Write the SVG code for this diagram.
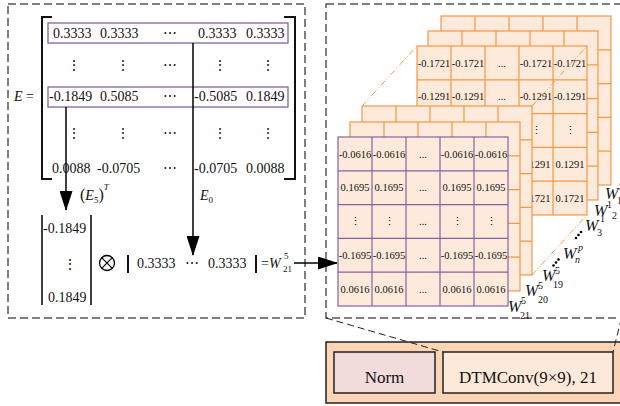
<svg xmlns="http://www.w3.org/2000/svg" width="620" height="406" viewBox="0 0 620 406">
<defs>
<style>
text{font-family:"Liberation Serif","Times New Roman",serif;fill:#111}
.m{font-size:14px}
.mc{font-size:14px;text-anchor:middle}
.c{font-size:10.5px;text-anchor:middle}
.it{font-style:italic}
.panel{fill:none;stroke:#555;stroke-width:1.5;stroke-dasharray:8 4}
.thin{fill:none;stroke:#222;stroke-width:1;stroke-dasharray:7 4}
.br{fill:none;stroke:#111;stroke-width:2}
.rowbox{fill:none;stroke:#8064a2;stroke-width:1.3}
.arr{stroke:#000;stroke-width:1.5;fill:none}
.diag{stroke:#f79646;stroke-width:1;stroke-dasharray:6 2 1 2 1 2;fill:none}
.lay{fill:#fdeada;stroke:#f79646;stroke-width:1.2}
.front{fill:#fdeada;stroke:#8064a2;stroke-width:1.2}
.W{font-size:16px;font-style:italic}
.s{font-size:10px}
.box{stroke:#222;stroke-width:1.5}
</style>
<marker id="ah" markerWidth="20" markerHeight="13" refX="19" refY="6.5" orient="auto" markerUnits="userSpaceOnUse"><path d="M0,0L20,6.5L0,13z" fill="#000"/></marker>
<g id="grid"><rect x="0" y="0" width="170" height="169"/><path fill="none" d="M34,0V169M68,0V169M102,0V169M136,0V169M0,33.8H170M0,67.6H170M0,101.4H170M0,135.2H170"/></g>
</defs>

<g id="left-panel"><rect class="panel" x="8" y="4" width="297" height="314"/></g>
<g id="right-panel"><rect class="panel" x="326" y="4" width="300" height="314"/></g>

<g id="matrix-E">
<text class="m it" x="14" y="101">E</text><text class="m" x="26" y="101">=</text>
<path class="br" d="M52,17H42V179H52M284,17H295V179H284"/>
<rect class="rowbox" x="48" y="23" width="240" height="20"/>
<rect class="rowbox" x="48" y="87" width="240" height="20"/>
<text class="m" y="38"><tspan x="53">0.3333</tspan><tspan x="100">0.3333</tspan><tspan x="198">0.3333</tspan><tspan x="246">0.3333</tspan></text>
<text class="mc" x="170" y="38">⋯</text>
<text class="mc" y="70"><tspan x="74">⋮</tspan><tspan x="123">⋮</tspan><tspan x="220">⋮</tspan><tspan x="268">⋮</tspan></text>
<text class="mc" x="170" y="70">⋯</text>
<text class="m" y="101"><tspan x="49">-0.1849</tspan><tspan x="100">0.5085</tspan><tspan x="194">-0.5085</tspan><tspan x="246">0.1849</tspan></text>
<text class="mc" x="170" y="101">⋯</text>
<text class="mc" y="138"><tspan x="74">⋮</tspan><tspan x="123">⋮</tspan><tspan x="220">⋮</tspan><tspan x="268">⋮</tspan></text>
<text class="mc" x="170" y="138">⋯</text>
<text class="m" y="173"><tspan x="52">0.0088</tspan><tspan x="97">-0.0705</tspan><tspan x="194">-0.0705</tspan><tspan x="246">0.0088</tspan></text>
<text class="mc" x="170" y="173">⋯</text>
</g>

<g id="label-E5T"><text class="m" x="80" y="200"><tspan font-size="16">(</tspan><tspan class="it">E</tspan><tspan font-size="9" dy="3">5</tspan><tspan font-size="16" dy="-3">)</tspan><tspan class="it" font-size="9" dy="-10">T</tspan></text></g>
<g id="label-E0"><text class="m it" x="200" y="200">E<tspan font-size="9" dy="3" font-style="normal">0</tspan></text></g>

<g id="formula">
<path class="arr" d="M42,215V305M91,215V305"/>
<text class="m" x="43" y="233">-0.1849</text>
<text class="mc" x="70" y="269">⋮</text>
<text class="m" x="48" y="302">0.1849</text>
<circle cx="107" cy="263" r="7.5" fill="none" stroke="#000" stroke-width="1.3"/>
<path d="M101.7,257.7L112.3,268.3M112.3,257.7L101.7,268.3" stroke="#000" stroke-width="1.2"/>
<path class="br" d="M128,255V273M256,255V273"/>
<text class="m" x="137" y="268">0.3333</text>
<text class="mc" x="192" y="268">⋯</text>
<text class="m" x="208" y="268">0.3333</text>
<text class="m" x="261" y="268">=</text>
<text class="m it" x="269" y="268">W</text>
<text font-size="9" x="284" y="259">5</text>
<text font-size="9" x="283" y="272">21</text>
</g>

<g id="connectors">
<line class="arr" x1="66" y1="107" x2="66" y2="210" marker-end="url(#ah)"/>
<line class="arr" x1="193" y1="43" x2="193" y2="255" marker-end="url(#ah)"/>
<line class="arr" x1="294" y1="263" x2="337" y2="263" marker-end="url(#ah)"/>
</g>

<g id="layer-back-3"><use href="#grid" class="lay" x="441" y="16"/></g>
<g id="layer-back-2"><use href="#grid" class="lay" x="428" y="31"/></g>
<g id="layer-1">
<use href="#grid" class="lay" x="417" y="46"/>
<text class="c" y="66.6"><tspan x="434">-0.1721</tspan><tspan x="468">-0.1721</tspan><tspan x="502">...</tspan><tspan x="536">-0.1721</tspan><tspan x="570">-0.1721</tspan></text>
<text class="c" y="100.4"><tspan x="434">-0.1291</tspan><tspan x="468">-0.1291</tspan><tspan x="502">...</tspan><tspan x="536">-0.1291</tspan><tspan x="570">-0.1291</tspan></text>
<text class="c" y="134.2"><tspan x="434">⋮</tspan><tspan x="468">⋮</tspan><tspan x="502">...</tspan><tspan x="536">⋮</tspan><tspan x="570">⋮</tspan></text>
<text class="c" y="168"><tspan x="434">0.1291</tspan><tspan x="468">0.1291</tspan><tspan x="502">...</tspan><tspan x="536">0.1291</tspan><tspan x="570">0.1291</tspan></text>
<text class="c" y="201.8"><tspan x="434">0.1721</tspan><tspan x="468">0.1721</tspan><tspan x="502">...</tspan><tspan x="536">0.1721</tspan><tspan x="570">0.1721</tspan></text>
</g>
<g id="stack-guides"><path class="diag" d="M362,106L417,46M532,106L587,46M532,275L587,215"/></g>
<g id="layer-19"><use href="#grid" class="lay" x="362" y="106"/></g>
<g id="layer-20"><use href="#grid" class="lay" x="350" y="122"/></g>
<g id="layer-21">
<use href="#grid" class="front" x="338" y="137"/>
<text class="c" y="157.6"><tspan x="355">-0.0616</tspan><tspan x="389">-0.0616</tspan><tspan x="423">...</tspan><tspan x="457">-0.0616</tspan><tspan x="491">-0.0616</tspan></text>
<text class="c" y="191.4"><tspan x="355">0.1695</tspan><tspan x="389">0.1695</tspan><tspan x="423">...</tspan><tspan x="457">0.1695</tspan><tspan x="491">0.1695</tspan></text>
<text class="c" y="225.2"><tspan x="355">⋮</tspan><tspan x="389">⋮</tspan><tspan x="423">...</tspan><tspan x="457">⋮</tspan><tspan x="491">⋮</tspan></text>
<text class="c" y="259"><tspan x="355">-0.1695</tspan><tspan x="389">-0.1695</tspan><tspan x="423">...</tspan><tspan x="457">-0.1695</tspan><tspan x="491">-0.1695</tspan></text>
<text class="c" y="292.8"><tspan x="355">0.0616</tspan><tspan x="389">0.0616</tspan><tspan x="423">...</tspan><tspan x="457">0.0616</tspan><tspan x="491">0.0616</tspan></text>
</g>

<g id="layer-labels">
<text class="W" x="605" y="199">W</text><text class="s" x="618" y="190">1</text><text class="s" x="617" y="204">1</text>
<text class="W" x="594" y="216">W</text><text class="s" x="607" y="208">1</text><text class="s" x="612" y="219">2</text>
<text class="W" x="585" y="231">W</text><text class="s" x="600" y="222">1</text><text class="s" x="597" y="236">3</text>
<circle cx="576" cy="238" r="1.3"/><circle cx="578.5" cy="235" r="1.3"/><circle cx="581" cy="232" r="1.3"/>
<text class="W" x="563" y="259">W</text><text class="s it" x="578" y="251">p</text><text class="s it" x="575" y="263">n</text>
<circle cx="553.5" cy="265.5" r="1.3"/><circle cx="556" cy="262.5" r="1.3"/><circle cx="558.5" cy="259.5" r="1.3"/>
<text class="W" x="542" y="281">W</text><text class="s" x="555" y="274">5</text><text class="s" x="553" y="288">19</text>
<text class="W" x="525" y="296">W</text><text class="s" x="538" y="289">5</text><text class="s" x="538" y="303">20</text>
<text class="W" x="508" y="312">W</text><text class="s" x="521" y="304">5</text><text class="s" x="520" y="319">21</text>
</g>

<g id="block"><rect class="box" x="326" y="342" width="300" height="61" fill="#fbd5b5"/></g>
<g id="norm"><rect class="box" x="334" y="352" width="101" height="41" fill="#f2dcdb"/><text x="384.5" y="383" font-size="17" text-anchor="middle">Norm</text></g>
<g id="dtmconv"><rect class="box" x="443" y="352" width="170" height="41" fill="#fde9d9"/><text x="528" y="383" font-size="17" text-anchor="middle">DTMConv(9×9), 21</text></g>
<g id="connectors-zoom"><path class="thin" d="M326,318L443,352M621.5,318L613,352"/></g>
</svg>
